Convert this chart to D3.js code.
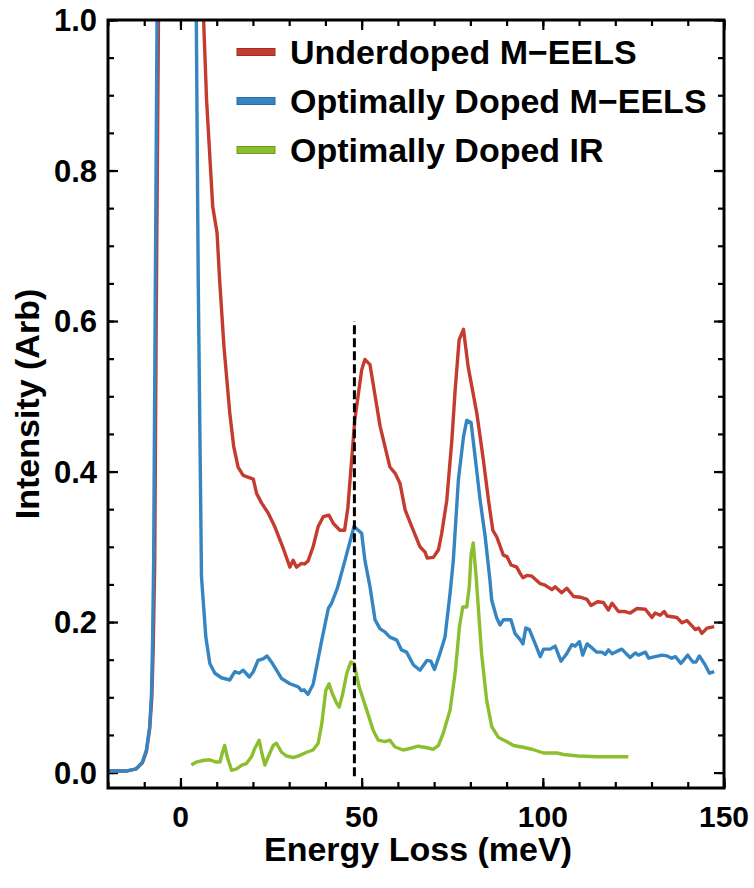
<!DOCTYPE html>
<html>
<head>
<meta charset="utf-8">
<script src="https://cdn.jsdelivr.net/npm/d3@7"></script>
<style>
  html, body { margin: 0; padding: 0; background: #fff; }
  svg { display: block; }
  text { font-family: "Liberation Sans", Arial, Helvetica, sans-serif; font-weight: bold; fill: #000; }
</style>
</head>
<body>
<svg id="chart" width="754" height="888"></svg>
<script>
// Loss spectra: [energy loss (meV), intensity (arb)]
const underdopedEELS = [
  [-20,0.002],[-15,0.002],[-12.2,0.005],[-10.5,0.013],[-9.4,0.028],[-8.5,0.058],[-7.9,0.10],
  [-7.5,0.17],[-7.1,0.28],[-6.7,0.60],[-6.0,1.05],[0,4.0],[6.0,1.05],[7.2,0.894],[8.9,0.752],
  [10.1,0.717],[10.8,0.655],[12,0.566],[13.6,0.478],[14.7,0.433],[15.9,0.406],[17.3,0.395],
  [20.1,0.39],[21,0.371],[22.4,0.358],[24.2,0.345],[26,0.327],[28.2,0.3],[30.2,0.273],
  [31.1,0.282],[32,0.273],[33.4,0.278],[34.3,0.277],[35.2,0.281],[36.6,0.3],[38,0.327],
  [39.4,0.34],[41,0.342],[42.2,0.331],[44,0.322],[45.3,0.322],[46.2,0.352],[48.1,0.468],
  [50,0.535],[50.9,0.549],[52.3,0.542],[55.1,0.46],[57.8,0.406],[59.2,0.398],[60.6,0.384],
  [62,0.349],[63.8,0.327],[66.1,0.3],[67.5,0.293],[68.1,0.285],[69.8,0.286],[71.2,0.296],
  [72.1,0.318],[73.5,0.362],[74.9,0.442],[75.8,0.508],[76.9,0.575],[78.1,0.589],[79.4,0.539],
  [81.8,0.477],[83.6,0.415],[85,0.362],[86.2,0.322],[87.3,0.313],[89.1,0.289],[90.1,0.287],
  [91.2,0.276],[92.8,0.273],[93.7,0.265],[94.5,0.259],[95.6,0.262],[97,0.261],[99.3,0.251],
  [100.6,0.249],[102.5,0.243],[103.4,0.247],[105.2,0.239],[106.6,0.245],[108.5,0.234],
  [110.3,0.233],[112.2,0.23],[113.3,0.222],[115.1,0.227],[116.7,0.226],[118.1,0.216],
  [119.1,0.225],[120.9,0.214],[122.7,0.214],[124.1,0.212],[126,0.218],[128.3,0.217],
  [130.1,0.206],[131,0.212],[132.4,0.209],[133.5,0.214],[134.3,0.208],[137,0.206],
  [138.4,0.199],[139.8,0.202],[142.1,0.19],[143,0.192],[143.9,0.185],[145.3,0.192],[147.3,0.194]
];

const optimalEELS = [
  [-20,0.002],[-15,0.002],[-12.2,0.005],[-10.5,0.014],[-9.4,0.03],[-8.5,0.061],[-8,0.105],
  [-7.7,0.172],[-7.4,0.282],[-7.0,0.6],[-6.4,1.05],[-1,4.0],[4.3,1.05],[4.9,0.655],[5.8,0.26],
  [7,0.18],[8.1,0.145],[9.5,0.132],[11.3,0.126],[13.6,0.123],[15,0.134],[16.2,0.132],
  [17.3,0.136],[19,0.127],[20.1,0.134],[21.4,0.149],[22.8,0.151],[23.9,0.155],[25.1,0.147],
  [26.5,0.136],[27.9,0.125],[30.2,0.118],[32.5,0.114],[33.4,0.109],[34.1,0.11],[35.2,0.104],
  [36.6,0.117],[39,0.176],[40.8,0.218],[41.7,0.225],[43.3,0.245],[45.4,0.282],[47.9,0.327],
  [50,0.318],[50.9,0.282],[52.3,0.247],[53.7,0.203],[55.1,0.191],[56.4,0.187],[57.8,0.18],
  [59.7,0.176],[61,0.163],[62.4,0.16],[64.3,0.143],[66.1,0.136],[68,0.149],[69.1,0.148],
  [70.1,0.137],[71.6,0.158],[73,0.18],[74.4,0.238],[75.3,0.282],[76.7,0.389],[78.1,0.446],
  [79,0.468],[80.2,0.465],[81.3,0.42],[82.7,0.362],[84.1,0.313],[85.4,0.256],[85.9,0.229],
  [87.3,0.205],[88.2,0.196],[89.1,0.203],[91.2,0.203],[92.3,0.185],[93.7,0.177],[94.5,0.171],
  [95.3,0.192],[96.3,0.19],[97.9,0.171],[99.3,0.154],[100.2,0.164],[102,0.164],[103.4,0.168],
  [105,0.148],[106.6,0.158],[108,0.17],[108.9,0.168],[110.1,0.174],[111,0.156],[112.2,0.171],
  [113.5,0.166],[114.9,0.16],[116.3,0.16],[117.2,0.157],[118.1,0.163],[119.1,0.158],
  [120.4,0.161],[121.8,0.164],[123,0.158],[124.1,0.153],[125.5,0.159],[126.4,0.156],
  [128.3,0.16],[129.2,0.152],[131,0.154],[132.9,0.156],[134.3,0.155],[135.6,0.152],
  [136.6,0.154],[138.1,0.145],[140,0.156],[141.4,0.147],[142.3,0.147],[143.2,0.155],
  [144.8,0.143],[146,0.132],[147.3,0.134]
];

const optimalIR = [
  [3,0.01],[4.4,0.014],[6.2,0.016],[8.1,0.017],[9.9,0.014],[10.9,0.014],[11.6,0.027],
  [12.2,0.036],[12.9,0.021],[14.1,0.003],[15.5,0.005],[16.9,0.01],[18.2,0.012],[19.6,0.021],
  [20.5,0.032],[21.7,0.043],[22.5,0.025],[23.3,0.01],[24.2,0.021],[25.6,0.036],[26.5,0.039],
  [27.9,0.027],[29.3,0.022],[31.1,0.02],[33,0.023],[34.8,0.027],[36.6,0.03],[38,0.039],
  [39,0.065],[40.1,0.109],[41,0.118],[41.9,0.105],[43.1,0.092],[43.8,0.087],[44.7,0.103],
  [45.9,0.132],[47,0.147],[47.9,0.145],[49.3,0.114],[51.4,0.083],[53.2,0.056],[54.6,0.043],
  [56.4,0.041],[57.8,0.043],[59.2,0.034],[61.5,0.03],[63.3,0.032],[65.6,0.035],[68,0.033],
  [69.8,0.031],[71.2,0.036],[72.5,0.052],[74.4,0.083],[75.8,0.132],[77,0.194],[77.9,0.22],
  [79,0.22],[79.7,0.247],[80.2,0.29],[80.8,0.305],[81.6,0.26],[83.1,0.158],[84.5,0.096],
  [85.9,0.061],[87.7,0.047],[90.1,0.041],[91.9,0.036],[94.2,0.034],[97,0.031],[100.2,0.026],
  [103.9,0.026],[105.7,0.024],[109.8,0.022],[114.9,0.021],[119.5,0.021],[123.6,0.021]
];

// Reference line marking the phonon energy
const markerEnergy = 48;
const markerRange = [-0.005, 0.6];

const seriesNames = ["Underdoped M\u2212EELS", "Optimally Doped M\u2212EELS", "Optimally Doped IR"];
const seriesColors = ["#c43c30", "#3585c3", "#8cbf2f"];
const seriesStrokes = ["#9e2e24", "#2a6aa0", "#6f9a22"];

const xMajorTicks = [0, 50, 100, 150];
const xMinorTicks = d3.range(-20, 151, 10);
const yMajorTicks = [0, 0.2, 0.4, 0.6, 0.8, 1.0];
const yMinorTicks = d3.range(0, 1.0001, 0.05);

const xTitle = "Energy Loss (meV)";
const yTitle = "Intensity (Arb)";

// Layout
const svg = d3.select("#chart");
const frame = { left: 108, right: 724, top: 20, bottom: 788 };

const x = d3.scaleLinear().domain([-20, 150]).range([frame.left, frame.right]);
const y = d3.scaleLinear().domain([-0.0205, 1.0]).range([frame.bottom, frame.top]);

const majorLen = 10, minorLen = 6;

svg.append("defs").append("clipPath").attr("id", "plotClip")
  .append("rect")
  .attr("x", frame.left).attr("y", frame.top)
  .attr("width", frame.right - frame.left).attr("height", frame.bottom - frame.top);

// Tick marks on all four sides, pointing inward
function tickLayer(axisGen, transform) {
  const g = svg.append("g").attr("transform", transform).call(axisGen);
  g.select(".domain").remove();
  g.selectAll(".tick line").attr("stroke", "#000").attr("stroke-width", 2.2);
  return g;
}
const noLabel = () => "";

tickLayer(d3.axisBottom(x).tickValues(xMinorTicks).tickSize(-minorLen).tickFormat(noLabel), `translate(0,${frame.bottom})`);
tickLayer(d3.axisBottom(x).tickValues(xMajorTicks).tickSize(-majorLen).tickFormat(noLabel), `translate(0,${frame.bottom})`);
tickLayer(d3.axisTop(x).tickValues(xMinorTicks).tickSize(-minorLen).tickFormat(noLabel), `translate(0,${frame.top})`);
tickLayer(d3.axisTop(x).tickValues(xMajorTicks).tickSize(-majorLen).tickFormat(noLabel), `translate(0,${frame.top})`);
tickLayer(d3.axisLeft(y).tickValues(yMinorTicks).tickSize(-minorLen).tickFormat(noLabel), `translate(${frame.left},0)`);
tickLayer(d3.axisLeft(y).tickValues(yMajorTicks).tickSize(-majorLen).tickFormat(noLabel), `translate(${frame.left},0)`);
tickLayer(d3.axisRight(y).tickValues(yMinorTicks).tickSize(-minorLen).tickFormat(noLabel), `translate(${frame.right},0)`);
tickLayer(d3.axisRight(y).tickValues(yMajorTicks).tickSize(-majorLen).tickFormat(noLabel), `translate(${frame.right},0)`);

// Tick labels
svg.append("g").selectAll("text").data(xMajorTicks).join("text")
  .attr("x", d => x(d)).attr("y", 827)
  .attr("text-anchor", "middle").attr("font-size", 30)
  .text(d => d3.format("d")(d));

svg.append("g").selectAll("text").data(yMajorTicks).join("text")
  .attr("x", frame.left - 11).attr("y", d => y(d)).attr("dy", "0.36em")
  .attr("text-anchor", "end").attr("font-size", 31)
  .text(d => d3.format(".1f")(d));

// Axis titles
svg.append("text")
  .attr("x", (frame.left + frame.right) / 2 + 2).attr("y", 861)
  .attr("text-anchor", "middle").attr("font-size", 34)
  .text(xTitle);

svg.append("text")
  .attr("transform", `translate(39,${(frame.top + frame.bottom) / 2}) rotate(-90)`)
  .attr("text-anchor", "middle").attr("font-size", 34)
  .text(yTitle);

// Spectra
const line = d3.line().x(d => x(d[0])).y(d => y(d[1]));
const plot = svg.append("g").attr("clip-path", "url(#plotClip)");
[underdopedEELS, optimalEELS, optimalIR].forEach((data, i) => {
  plot.append("path").datum(data)
    .attr("fill", "none")
    .attr("stroke", seriesColors[i])
    .attr("stroke-width", 3.4)
    .attr("stroke-linejoin", "round")
    .attr("d", line);
});

// Dashed marker
plot.append("line")
  .attr("x1", x(markerEnergy)).attr("x2", x(markerEnergy))
  .attr("y1", y(markerRange[0])).attr("y2", y(markerRange[1]))
  .attr("stroke", "#000").attr("stroke-width", 3)
  .attr("stroke-dasharray", "9,4");

// Frame
svg.append("rect")
  .attr("x", frame.left).attr("y", frame.top)
  .attr("width", frame.right - frame.left).attr("height", frame.bottom - frame.top)
  .attr("fill", "none").attr("stroke", "#000").attr("stroke-width", 3);

// Legend
const legend = svg.append("g");
const legendRows = [52, 101, 150];
seriesNames.forEach((name, i) => {
  legend.append("rect")
    .attr("x", 237).attr("y", legendRows[i] - 3.5)
    .attr("width", 38).attr("height", 7)
    .attr("fill", seriesColors[i]).attr("stroke", seriesStrokes[i]).attr("stroke-width", 1);
  legend.append("text")
    .attr("x", 290).attr("y", legendRows[i]).attr("dy", "0.36em")
    .attr("font-size", 34)
    .text(name);
});
</script>
</body>
</html>
